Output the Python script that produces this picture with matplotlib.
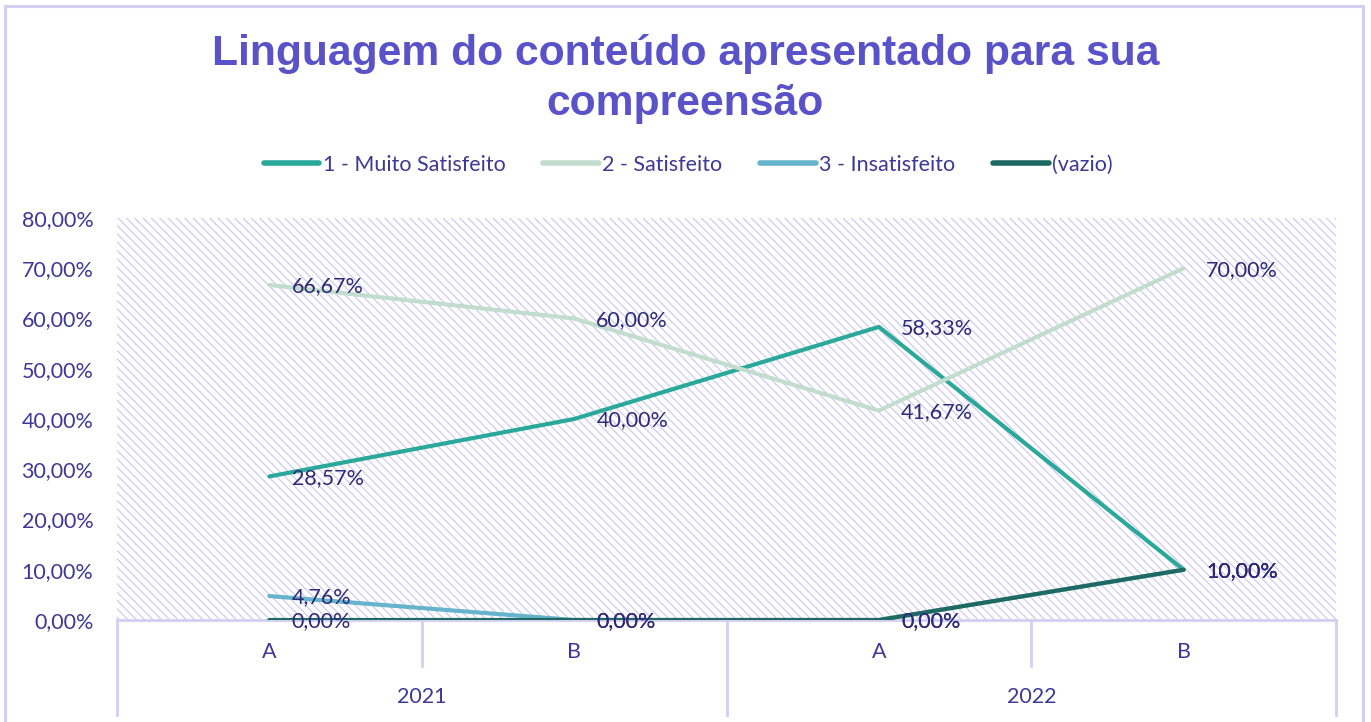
import matplotlib
matplotlib.use('Agg')
import matplotlib.pyplot as plt
from matplotlib.patches import Rectangle

# dados
periodos = ['A', 'B', 'A', 'B']
anos = ['2021', '2022']
series = ['1 - Muito Satisfeito', '2 - Satisfeito', '3 - Insatisfeito', '(vazio)']
muito_satisfeito = [28.57, 40.00, 58.33, 10.00]
satisfeito = [66.67, 60.00, 41.67, 70.00]
insatisfeito = [4.76, 0.00, 0.00, 10.00]
vazio = [0.00, 0.00, 0.00, 10.00]
y_ticks = [0, 10, 20, 30, 40, 50, 60, 70, 80]

cores = ['#2AA99B', '#C2DCCD', '#66B4CB', '#1E6A62']
cor_titulo = '#5A52C8'
cor_texto = '#3E3896'
cor_rotulo = '#2E2A78'
cor_borda = '#D3CFF2'
cor_hatch = '#CFCAF3'
fs = 15.5

plt.rcParams['font.family'] = ['Lato', 'DejaVu Sans']
plt.rcParams['hatch.linewidth'] = 0.9
plt.rcParams['hatch.color'] = cor_hatch

fig = plt.figure(figsize=(13.71, 7.22), dpi=100)
fig.patches.append(Rectangle((5 / 1371, -0.01), 1358 / 1371, 1.01 - 6 / 722,
                             transform=fig.transFigure, fill=False,
                             edgecolor=cor_borda, lw=2.2))

ax = fig.add_axes([117 / 1371, 1 - 620 / 722, 1219 / 1371, 402 / 722])
ax.add_patch(Rectangle((0, 0), 1, 1, transform=ax.transAxes, facecolor='white',
                       edgecolor=cor_hatch, lw=0, hatch='\\\\\\\\', zorder=0))
for s in ax.spines.values():
    s.set_visible(False)

x = list(range(len(periodos)))
dados = [muito_satisfeito, satisfeito, insatisfeito, vazio]
for nome, vals, cor in zip(series, dados, cores):
    ax.plot(x, vals, color=cor, lw=3, label=nome, solid_capstyle='round', zorder=3)
for vals in dados:
    for xi, v in zip(x, vals):
        ax.annotate(f'{v:.2f}%'.replace('.', ','), (xi, v), xytext=(16, -1),
                    textcoords='offset points', ha='left', va='center',
                    fontsize=fs, color=cor_rotulo, zorder=4)

ax.set_xlim(-0.5, 3.5)
ax.set_ylim(0, 80)
ax.set_yticks(y_ticks)
ax.set_yticklabels([f'{t},00%' for t in y_ticks], fontsize=fs, color=cor_texto)
ax.tick_params(axis='y', length=0, pad=17)
ax.set_xticks([])

# eixo de categorias em dois níveis
tr = ax.get_xaxis_transform()
ax.plot([-0.5, 3.5], [0, 0], color=cor_borda, lw=2, transform=tr, clip_on=False, zorder=2)
for xv, baixo in zip([-0.5, 0.5, 1.5, 2.5, 3.5], [-0.236, -0.114, -0.236, -0.114, -0.236]):
    ax.plot([xv, xv], [0, baixo], color=cor_borda, lw=2, transform=tr, clip_on=False)
for xi, p in zip(x, periodos):
    ax.text(xi, -0.08, p, transform=tr, ha='center', va='center', fontsize=fs, color=cor_texto)
for i, a in enumerate(anos):
    ax.text(0.5 + 2 * i, -0.192, a, transform=tr, ha='center', va='center', fontsize=fs, color=cor_texto)

fig.text(0.5, 1 - 79 / 722, 'Linguagem do conteúdo apresentado para sua\ncompreensão',
         ha='center', va='center', fontsize=30.7, fontweight='bold', color=cor_titulo,
         family=['Liberation Sans', 'DejaVu Sans'], linespacing=1.3)

leg = fig.legend(loc='center', bbox_to_anchor=(0.502, 1 - 165 / 722), ncol=4, frameon=False,
                 fontsize=fs, labelcolor=cor_texto, handlelength=2.6, columnspacing=1.75,
                 handletextpad=0.15)
for h in leg.legend_handles:
    h.set_linewidth(4)
    h.set_solid_capstyle('round')

fig.savefig('out.png', dpi=100)
